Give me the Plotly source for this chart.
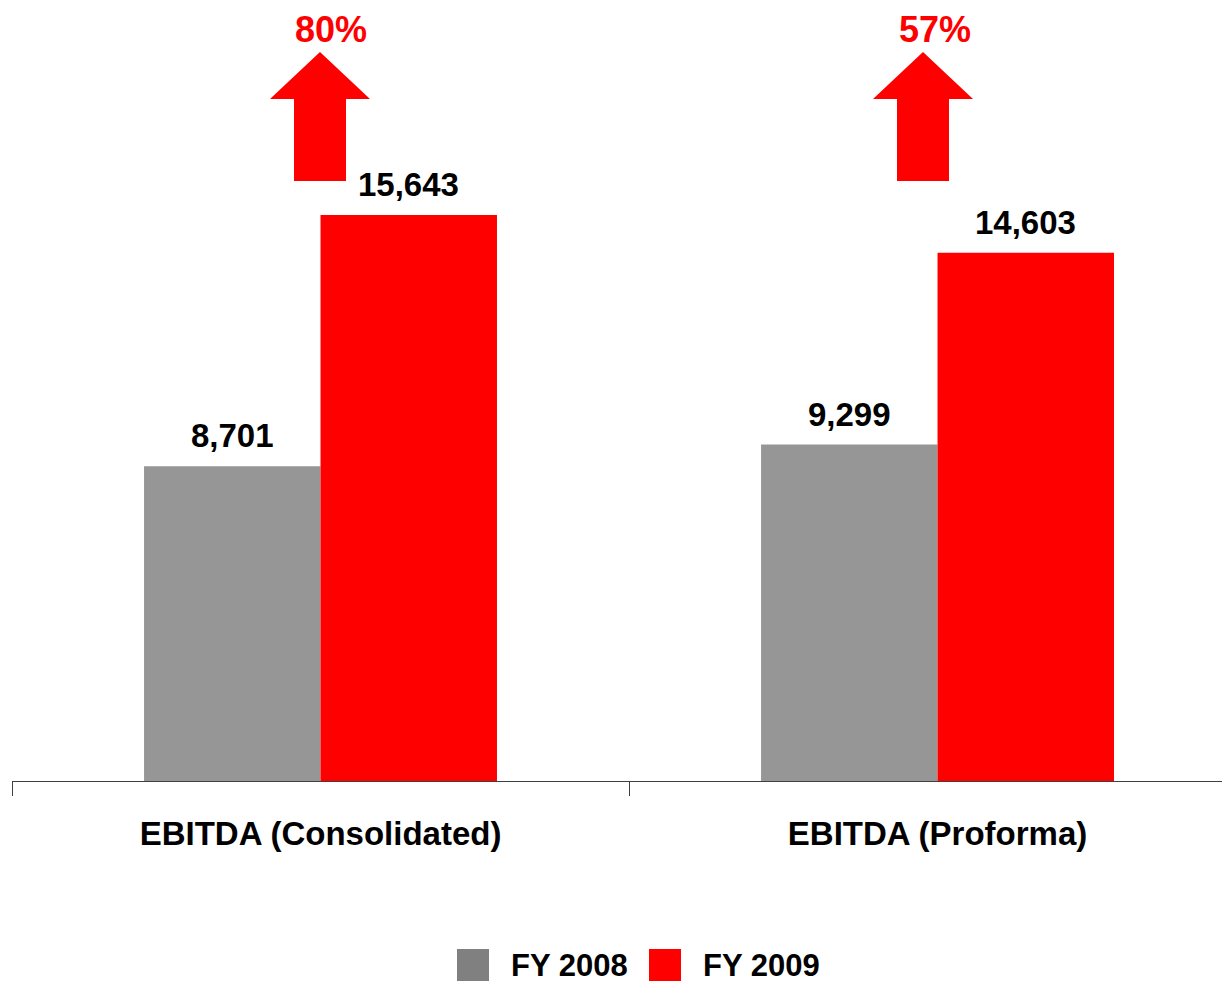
import plotly.graph_objects as go

categories = ["EBITDA (Consolidated)", "EBITDA (Proforma)"]
fy2008 = [8701, 9299]
fy2009 = [15643, 14603]
growth_labels = ["80%", "57%"]
series_names = ["FY 2008", "FY 2009"]

OFF = 8  # page body margin
W, H = 1230 - OFF, 982 - OFF
L, R, T, B = 12 - OFF, 0, 0, 201
PW, PH = W - L - R, H - T - B
FONT = "Arial, Liberation Sans, sans-serif"
GRAY_BAR = "#969696"
GRAY_LEG = "#808080"
RED = "#FF0000"

def px(x):
    return (x - OFF - L) / PW

def py(y):
    return (H - B - (y - OFF)) / PH

fig = go.Figure()
fig.add_trace(go.Bar(x=categories, y=fy2008, name=series_names[0], marker=dict(color=GRAY_BAR, line=dict(width=0)), showlegend=False))
fig.add_trace(go.Bar(x=categories, y=fy2009, name=series_names[1], marker=dict(color=RED, line=dict(width=0)), showlegend=False))

bar_off = 0.143
annotations = []
for i in range(len(categories)):
    for off, vals in ((-bar_off, fy2008), (bar_off, fy2009)):
        annotations.append(dict(x=i + off, y=vals[i], xref="x", yref="y", text=f"<b>{vals[i]:,}</b>",
                                showarrow=False, yanchor="bottom", yshift=10,
                                font=dict(family=FONT, size=33, color="black")))

# growth arrows (decorative, positioned in pixels)
arrow_centers = [320, 923]
text_centers = [331, 935]
shapes = []
for cx, tx, lab in zip(arrow_centers, text_centers, growth_labels):
    pts = [(cx, 52), (cx + 50, 99), (cx + 26, 99), (cx + 26, 181), (cx - 26, 181), (cx - 26, 99), (cx - 50, 99)]
    path = "M " + " L ".join(f"{px(a):.5f},{py(b):.5f}" for a, b in pts) + " Z"
    shapes.append(dict(type="path", xref="paper", yref="paper", path=path, fillcolor=RED, line=dict(width=0)))
    annotations.append(dict(x=px(tx), y=py(8), xref="paper", yref="paper", text=f"<b>{lab}</b>",
                            showarrow=False, yanchor="top", xanchor="center", borderpad=0,
                            font=dict(family=FONT, size=36, color=RED)))

# legend
for (x0, col, name, tx0) in ((457, GRAY_LEG, series_names[0], 509), (649, RED, series_names[1], 701)):
    shapes.append(dict(type="rect", xref="paper", yref="paper", x0=px(x0), x1=px(x0 + 32), y0=py(949), y1=py(981),
                       fillcolor=col, line=dict(width=0)))
    annotations.append(dict(x=px(tx0), y=py(965), xref="paper", yref="paper", text=f"<b>{name}</b>",
                            showarrow=False, xanchor="left", yanchor="middle",
                            font=dict(family=FONT, size=31, color="black")))

ymax = PH / (566 / 15643)
fig.update_layout(
    width=W, height=H,
    margin=dict(l=L, r=R, t=T, b=B),
    plot_bgcolor="white", paper_bgcolor="white",
    barmode="group", bargap=0.428, bargroupgap=0,
    showlegend=False,
    shapes=shapes, annotations=annotations,
    xaxis=dict(range=[-0.5, 1.474], showline=True, linecolor="#404040", linewidth=1,
               ticks="outside", tickson="boundaries", ticklen=14, tickcolor="#404040", tickwidth=1,
               tickfont=dict(family=FONT, size=33, color="black"), ticklabelstandoff=23,
               showgrid=False, zeroline=False,
               tickvals=categories, ticktext=[f"<b>{c}</b>" for c in categories]),
    yaxis=dict(range=[0, ymax], visible=False, showgrid=False, zeroline=False),
)

fig.write_html("out.html")
